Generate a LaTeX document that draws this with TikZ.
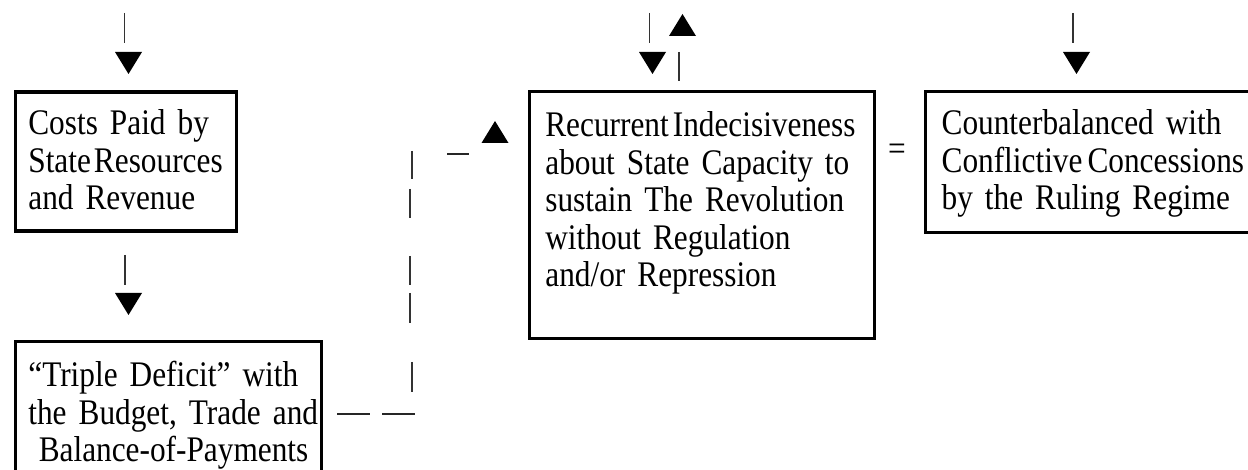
\documentclass[tikz,border=0pt]{standalone}
\usepackage{fontspec}
\setmainfont{Liberation Serif}[FakeStretch=0.87]
\newcommand{\boxfont}{\fontsize{36}{37.5}\selectfont\spaceskip=6pt plus 3pt minus 1pt\relax}
\tikzset{
  box/.style={draw, line width=3.2pt, rectangle, anchor=north west, align=left,
    font=\boxfont, text height=25pt},
  glyphbar/.style={line width=1.8pt, black!80},
  glyphrule/.style={line width=1.6pt, black!85},
}
\newcommand{\downhead}[1]{\fill #1 ++(-13.5,0) -- ++(27,0) -- ++(-13.5,22) -- cycle;}
\newcommand{\uphead}[1]{\fill #1 ++(-13.5,0) -- ++(27,0) -- ++(-13.5,-22) -- cycle;}
\begin{document}
\begin{tikzpicture}[x=1pt, y=-1pt]
  \useasboundingbox (0,0) rectangle (1248,470);
  \clip (0,0) rectangle (1248,470);
  % the four boxes
  \node[box, text width=195pt, inner xsep=13.25pt, inner ysep=17.5pt, text depth=79pt]
    (costs) at (13.5,90.5)
    {\makebox[\linewidth][s]{Costs Paid by}\\
     \mbox{State\hspace{3pt}Resources}\\
     \mbox{and Revenue}};
  \node[box, text width=280pt, inner xsep=13.25pt, inner ysep=20pt, text depth=85pt]
    (deficit) at (13.5,340)
    {\mbox{“Triple Deficit” with}\\
     \mbox{the Budget, Trade and}\\
     \hspace*{\fill}\mbox{Balance-of-Payments}};
  \node[box, text width=313pt, inner xsep=15.75pt, inner ysep=20pt, text depth=182pt]
    (indecision) at (528,90)
    {\mbox{Recurrent\hspace{4pt}Indecisiveness}\\
     \makebox[\linewidth][s]{about State Capacity to}\\
     \makebox[\linewidth][s]{sustain The Revolution}\\
     \mbox{without Regulation}\\
     \mbox{and/or Repression}};
  \node[box, text width=306pt, inner xsep=16pt, inner ysep=18pt, text depth=80pt]
    (concessions) at (924,90)
    {\mbox{Counterbalanced with}\\
     \mbox{Conflictive\hspace{5pt}Concessions}\\
     \mbox{by the Ruling Regime}};
  \node[font=\boxfont, anchor=base, inner sep=0pt] (eq) at (897,161) {=};
  % into costs
  \draw[glyphbar] (124.5,13) -- (124.5,43);
  \downhead{(128.5,52)}
  % costs to deficit
  \draw[glyphbar] (125,255) -- (125,285);
  \downhead{(128.5,293)}
  % in and out of indecision
  \draw[glyphbar] (649.5,13) -- (649.5,43);
  \downhead{(652.5,52)}
  \uphead{(682.5,36)}
  \draw[glyphbar] (679,52) -- (679,81);
  % into concessions
  \draw[glyphbar] (1073,13) -- (1073,43);
  \downhead{(1076.5,52)}
  % deficit back to indecision
  \draw[glyphrule] (337,414) -- (370,414);
  \draw[glyphrule] (382,414) -- (415,414);
  \draw[glyphbar] (412,362) -- (412,392);
  \draw[glyphbar] (410,293) -- (410,323);
  \draw[glyphbar] (410,256) -- (410,285);
  \draw[glyphbar] (410,189) -- (410,218);
  \draw[glyphbar] (412,151) -- (412,179);
  \draw[glyphrule] (447,154) -- (469,154);
  \uphead{(495,143)}
\end{tikzpicture}
\end{document}
